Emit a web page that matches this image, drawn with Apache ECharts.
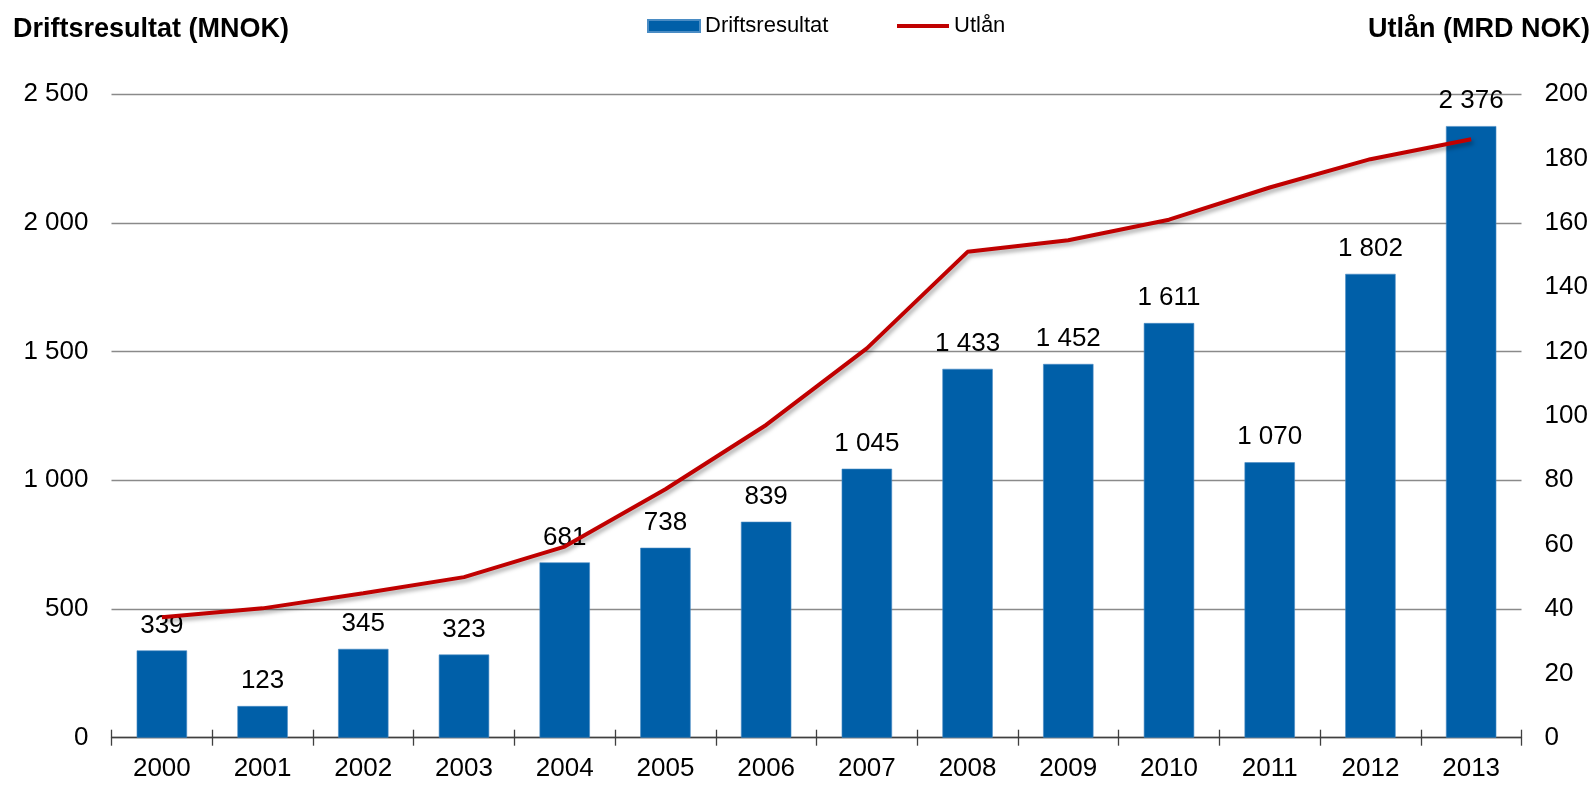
<!DOCTYPE html>
<html>
<head>
<meta charset="utf-8">
<script src="https://cdn.jsdelivr.net/npm/echarts@6/dist/echarts.min.js"></script>
<style>
html,body{margin:0;padding:0;background:#fff;}
#c{width:1595px;height:785px;}
</style>
</head>
<body>
<div id="c"></div>
<script>
const categories = ['2000','2001','2002','2003','2004','2005','2006','2007','2008','2009','2010','2011','2012','2013'];
const driftsresultat = [339,123,345,323,681,738,839,1045,1433,1452,1611,1070,1802,2376];
const utlan = [37.4,40.2,44.9,49.9,59.4,77.2,97.2,121,151,154.6,161,171,179.8,186];
const leftTicks = {min:0, max:2500, interval:500};
const rightTicks = {min:0, max:200, interval:20};

const FONT = '"Liberation Sans", Arial, sans-serif';
function fmt(v){ return String(Math.round(v)).replace(/\B(?=(\d{3})+(?!\d))/g, ' '); }

const chart = echarts.init(document.getElementById('c'));
chart.setOption({
  animation:false,
  backgroundColor:'#ffffff',
  textStyle:{fontFamily:FONT, color:'#000'},
  grid:{left:111.5, right:73.5, top:94.2, bottom:47.3, containLabel:false},
  title:[
    {text:'Driftsresultat (MNOK)', left:8, top:11, textStyle:{fontFamily:FONT, fontSize:27, fontWeight:'bold', color:'#000'}},
    {text:'Utlån (MRD NOK)', right:0, top:11, textStyle:{fontFamily:FONT, fontSize:27, fontWeight:'bold', color:'#000'}}
  ],
  legend:[
    {left:642, top:10, itemWidth:52, itemHeight:12, itemGap:10, padding:5,
     textStyle:{fontFamily:FONT, fontSize:22, color:'#000'},
     data:[{name:'Driftsresultat', icon:'rect'}]},
    {left:892, top:10, itemWidth:52, itemHeight:4, itemGap:10, padding:5,
     textStyle:{fontFamily:FONT, fontSize:22, color:'#000'},
     data:[{name:'Utlån', icon:'rect', itemStyle:{color:'#C00000'}}]}
  ],
  xAxis:[
    {type:'category', data:categories, position:'bottom',
     axisLine:{show:true, lineStyle:{color:'#404040', width:1.3}},
     axisTick:{show:true, alignWithLabel:false, length:8, lineStyle:{color:'#404040', width:1.3}},
     axisLabel:{fontFamily:FONT, fontSize:26, color:'#000', margin:18},
     splitLine:{show:false}},
    {type:'category', data:categories, position:'bottom', offset:0,
     axisLine:{show:false},
     axisTick:{show:true, inside:true, length:8, lineStyle:{color:'#404040', width:1.3}},
     axisLabel:{show:false}, splitLine:{show:false}}
  ],
  yAxis:[
    {type:'value', min:leftTicks.min, max:leftTicks.max, interval:leftTicks.interval, position:'left',
     axisLine:{show:false}, axisTick:{show:false},
     axisLabel:{fontFamily:FONT, fontSize:26, color:'#000', margin:23, formatter:fmt},
     splitLine:{show:true, lineStyle:{color:'#8a8a8a', width:1.3}}},
    {type:'value', min:rightTicks.min, max:rightTicks.max, interval:rightTicks.interval, position:'right',
     axisLine:{show:false}, axisTick:{show:false},
     axisLabel:{fontFamily:FONT, fontSize:26, color:'#000', margin:23},
     splitLine:{show:false}}
  ],
  series:[
    {name:'Driftsresultat', type:'bar', data:driftsresultat, xAxisIndex:0, yAxisIndex:0, barWidth:'50%',
     itemStyle:{color:'#005FA8', borderColor:'#4a8cc4', borderWidth:0.6},
     label:{show:true, position:'top', distance:12, fontFamily:FONT, fontSize:26, color:'#000', formatter:p=>fmt(p.value)},
     z:2},
    {name:'Utlån', type:'line', data:utlan, xAxisIndex:0, yAxisIndex:1, symbol:'none', smooth:false,
     lineStyle:{color:'#C00000', width:4, shadowColor:'rgba(0,0,0,0.35)', shadowBlur:4, shadowOffsetX:2, shadowOffsetY:3},
     itemStyle:{color:'#C00000'}, z:3}
  ]
});
</script>
</body>
</html>
